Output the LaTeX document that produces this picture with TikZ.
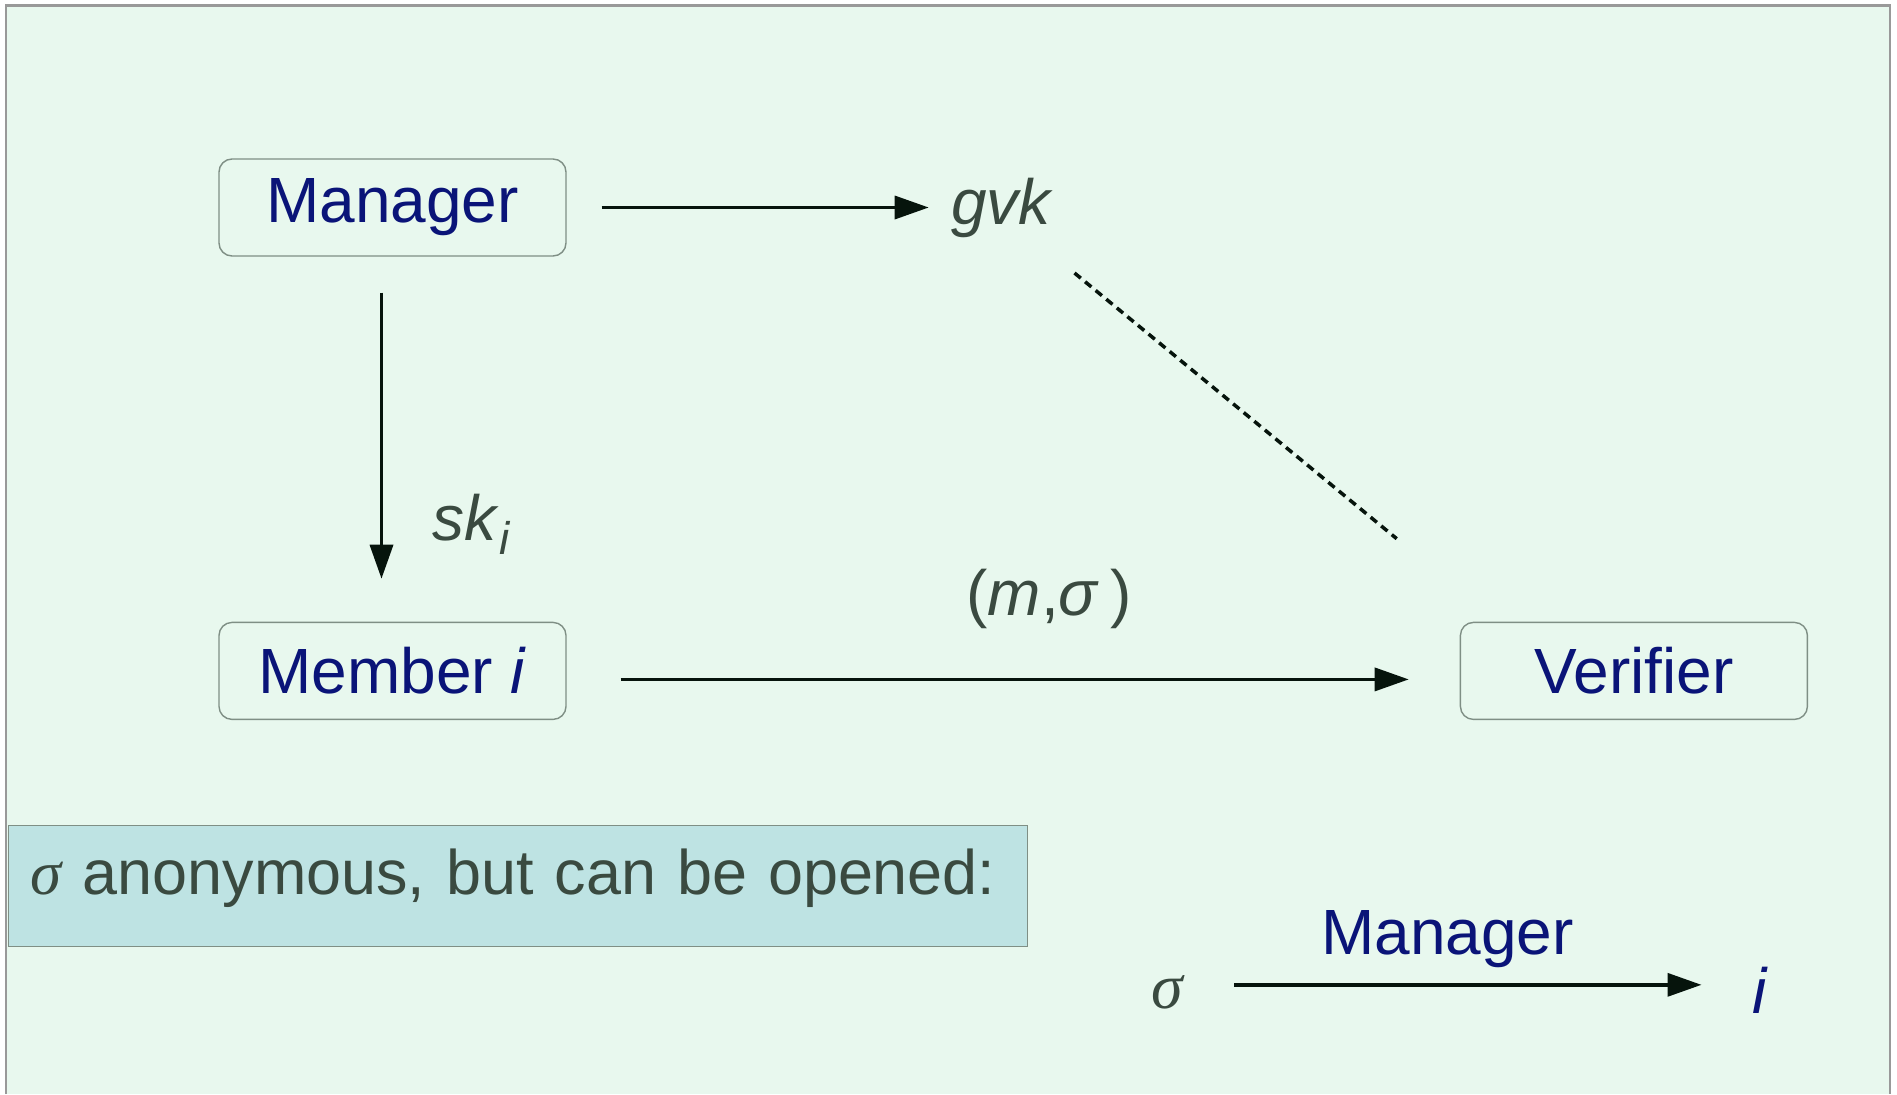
\documentclass[tikz,border=0pt]{standalone}
\usepackage{fontspec}
\setmainfont{Liberation Sans}
\newfontfamily\sigmafont{Liberation Serif}
\usetikzlibrary{arrows.meta,positioning,calc}

\definecolor{mint}{RGB}{232,248,238}
\definecolor{navy}{RGB}{10,20,120}
\definecolor{slate}{RGB}{58,74,64}
\definecolor{ink}{RGB}{6,20,12}
\definecolor{rim}{RGB}{127,143,133}
\definecolor{notefill}{RGB}{190,227,227}

\tikzset{
    %Define standard arrow tip
    >={Triangle[length=3.4mm,width=2.3mm]},
    %Define style for the parties
    actor/.style={
           rectangle,
           rounded corners=1.3mm,
           draw=rim, line width=0.4pt,
           text=navy,
           minimum width=3.47cm,
           minimum height=0.97cm,
           inner sep=0pt},
    % Define arrow style
    arr/.style={
           ->,
           draw=ink,
           line width=1pt},
    dots/.style={
           draw=ink,
           line width=1pt,
           dash pattern=on 2.3pt off 1.6pt},
    lbl/.style={text=slate, inner sep=0pt},
    note/.style={
           rectangle,
           fill=notefill,
           draw=rim, line width=0.4pt,
           text=slate,
           text width=9.75cm,
           text depth=0.29cm,
           inner xsep=2.2mm,
           minimum height=1.21cm,
           align=left,
           font=\fontsize{17.9}{21}\selectfont}
}

\begin{document}
\begin{tikzpicture}[font=\fontsize{18.2}{22}\selectfont]
 \useasboundingbox (0,0) rectangle (18.97,-10.94);
 %Background
 \fill[mint] (0.06,-0.055) rectangle (18.90,-10.94);
 \draw[gray!80, line width=0.8pt] (0.06,-10.94) |- (18.90,-0.055) -- (18.90,-10.94);

 %Parties
 \node[actor] (mgr) at (3.925,-2.075) {Manager};
 \node[actor,below=3.65cm of mgr] (mem) {Member \textit{i}};
 \node[actor,right=8.93cm of mem] (ver) {Verifier};

 %Keys
 \node[lbl,right=3.84cm of mgr] (gvk) {\textit{gvk}};
 \node[lbl,anchor=base west] (ski) at (4.32,-5.40) {\textit{sk}\raisebox{-0.22em}{\fontsize{13}{13}\selectfont\textit{i}}};

 \draw[arr, shorten <=3.5mm, shorten >=2.2mm] (mgr) -- (gvk);
 \draw[arr, shorten <=3.6mm, shorten >=4.3mm] ([xshift=-1.1mm]mgr.south) -- ([xshift=-1.1mm]mem.north);
 \draw[dots] ($(gvk.south)+(0.72,-0.35)$) -- ($(ver.north west)+(-0.63,0.83)$);

 %Signing
 \draw[arr, shorten <=5.4mm, shorten >=5.1mm] ([yshift=-0.85mm]mem.east) -- ([yshift=-0.85mm]ver.west);
 \node[lbl,anchor=base] (msg) at (10.49,-6.15) {(\textit{m},\textit{σ}\,)};

 %Opening
 \node[note,anchor=north west] (hint) at (0.08,-8.25) {{\sigmafont\itshape σ} anonymous, but can be opened:};
 \node[lbl,anchor=base] (sig) at (11.67,-10.08) {\sigmafont\itshape σ};
 \node[lbl,text=navy,anchor=base] (idx) at (17.60,-10.13) {\textit{i}};
 \draw[arr, shorten <=5.1mm, shorten >=5mm] ([yshift=0.7mm]sig.east) -- ([yshift=0.7mm]sig.east -| idx.west)
    node[pos=0.465, above=1.5mm, text=navy, inner sep=0pt] {Manager};
\end{tikzpicture}
\end{document}
